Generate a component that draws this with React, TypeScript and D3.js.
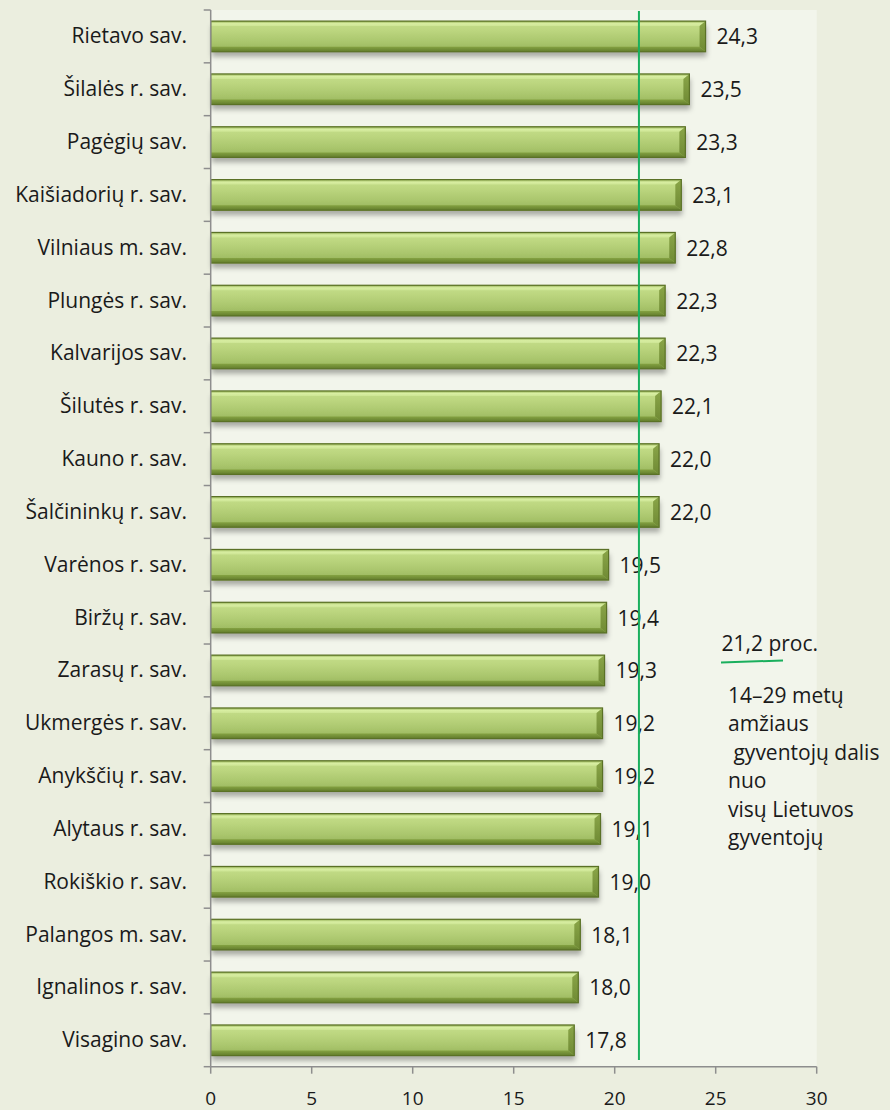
import React from "react";
import * as d3 from "d3";

const categories = [
  "Rietavo sav.", "Šilalės r. sav.", "Pagėgių sav.", "Kaišiadorių r. sav.", "Vilniaus m. sav.",
  "Plungės r. sav.", "Kalvarijos sav.", "Šilutės r. sav.", "Kauno r. sav.", "Šalčininkų r. sav.",
  "Varėnos r. sav.", "Biržų r. sav.", "Zarasų r. sav.", "Ukmergės r. sav.", "Anykščių r. sav.",
  "Alytaus r. sav.", "Rokiškio r. sav.", "Palangos m. sav.", "Ignalinos r. sav.", "Visagino sav."
];
const values = [24.3, 23.5, 23.3, 23.1, 22.8, 22.3, 22.3, 22.1, 22.0, 22.0, 19.5, 19.4, 19.3, 19.2, 19.2, 19.1, 19.0, 18.1, 18.0, 17.8];
const xTicks = [0, 5, 10, 15, 20, 25, 30];
const referenceValue = 21.2;
const annotationTitle = "21,2 proc.";
const annotationLines = ["14–29 metų", "amžiaus", " gyventojų dalis", "nuo", "visų Lietuvos", "gyventojų"];

const W = 890, H = 1110;
const plot = { left: 210.7, right: 816.7, top: 10, bottom: 1066.7 };
const FONT = "'Open Sans', 'Noto Sans', sans-serif";

export default function App() {
  const x = d3.scaleLinear().domain([0, 30]).range([plot.left, plot.right]);
  const y = d3.scaleBand<string>().domain(categories).range([plot.top, plot.bottom]).paddingInner(0.42).paddingOuter(0.21);
  const yb = d3.scaleBand<string>().domain(categories).range([plot.top, plot.bottom]);
  const fmt = (v: number) => v.toFixed(1).replace(".", ",");
  const bh = y.bandwidth();
  const bevT = 5, bevR = 6;
  const axisColor = "#8e8e8e";

  return (
    <svg width={W} height={H} style={{ position: "absolute", left: 0, top: 0, display: "block" }}>
      <defs>
        <linearGradient id="barFill" x1="0" y1="0" x2="0" y2="1">
          <stop offset="0" stopColor="#c6df8c" />
          <stop offset="0.3" stopColor="#bcd67f" />
          <stop offset="0.7" stopColor="#a9c56c" />
          <stop offset="1" stopColor="#96b35a" />
        </linearGradient>
        <linearGradient id="topBev" x1="0" y1="0" x2="0" y2="1">
          <stop offset="0" stopColor="#94b054" />
          <stop offset="0.5" stopColor="#d8eea2" />
          <stop offset="1" stopColor="#cde594" />
        </linearGradient>
        <linearGradient id="botBev" x1="0" y1="0" x2="0" y2="1">
          <stop offset="0" stopColor="#84a242" />
          <stop offset="1" stopColor="#627c2c" />
        </linearGradient>
        <linearGradient id="rightBev" x1="0" y1="0" x2="0" y2="1">
          <stop offset="0" stopColor="#8aa548" />
          <stop offset="1" stopColor="#6f8a34" />
        </linearGradient>
        <filter id="shadow" x="-5%" y="-30%" width="110%" height="190%">
          <feDropShadow dx="1" dy="5" stdDeviation="2.6" floodColor="#000" floodOpacity="0.3" />
        </filter>
      </defs>
      <rect x={0} y={0} width={W} height={H} fill="#ebeedf" />
      <rect x={plot.left} y={plot.top} width={plot.right - plot.left} height={plot.bottom - plot.top} fill="#f2f5eb" />

      {categories.map((c, i) => {
        const y0 = y(c)!;
        const x0 = x(0);
        const x1 = x(values[i]) + 4;
        const w = x1 - x0;
        return (
          <g key={c}>
            <g filter="url(#shadow)">
              <rect x={x0} y={y0} width={w} height={bh} fill="url(#barFill)" />
            </g>
            <polygon points={`${x0},${y0} ${x1},${y0} ${x1 - bevR},${y0 + bevT} ${x0},${y0 + bevT}`} fill="url(#topBev)" />
            <polygon points={`${x0},${y0 + bh} ${x1},${y0 + bh} ${x1 - bevR},${y0 + bh - bevT} ${x0},${y0 + bh - bevT}`} fill="url(#botBev)" />
            <polygon points={`${x1},${y0} ${x1},${y0 + bh} ${x1 - bevR},${y0 + bh - bevT} ${x1 - bevR},${y0 + bevT}`} fill="url(#rightBev)" />
            <rect x={x0} y={y0} width={w} height={bh} fill="none" stroke="#5a7126" strokeWidth={1.2} />
            <text x={x1 + 11} y={y0 + bh / 2 + 8} fontFamily={FONT} fontSize={21} fill="#1a1a1a">{fmt(values[i])}</text>
            <text x={187} y={yb(c)! + yb.bandwidth() / 2 + 7} textAnchor="end" fontFamily={FONT} fontSize={21} fill="#1a1a1a">{c}</text>
          </g>
        );
      })}

      {/* left axis */}
      <line x1={plot.left} x2={plot.left} y1={plot.top} y2={plot.bottom} stroke={axisColor} strokeWidth={1.5} />
      {d3.range(categories.length + 1).map((i) => {
        const yy = plot.top + i * yb.step();
        return <line key={i} x1={plot.left - 7} x2={plot.left} y1={yy} y2={yy} stroke={axisColor} strokeWidth={1.5} />;
      })}
      {/* bottom axis */}
      <line x1={plot.left} x2={plot.right} y1={plot.bottom} y2={plot.bottom} stroke={axisColor} strokeWidth={1.5} />
      {xTicks.map((t) => (
        <g key={t}>
          <line x1={x(t)} x2={x(t)} y1={plot.bottom} y2={plot.bottom + 7} stroke={axisColor} strokeWidth={1.5} />
          <text x={x(t)} y={1105} textAnchor="middle" fontFamily={FONT} fontSize={19} fill="#1a1a1a">{t}</text>
        </g>
      ))}

      {/* reference line */}
      <line x1={x(referenceValue)} x2={x(referenceValue)} y1={11} y2={1060} stroke="#1aaf5d" strokeWidth={2} />

      {/* annotation */}
      <text x={721.5} y={651} fontFamily={FONT} fontSize={21} fill="#1a1a1a">{annotationTitle}</text>
      <line x1={721} x2={783} y1={662.5} y2={660.5} stroke="#1aaf5d" strokeWidth={2} />
      {annotationLines.map((l, i) => (
        <text key={i} x={728} y={703 + i * 28.4} fontFamily={FONT} fontSize={21} fill="#1a1a1a" style={{ whiteSpace: "pre" }}>{l}</text>
      ))}
    </svg>
  );
}
